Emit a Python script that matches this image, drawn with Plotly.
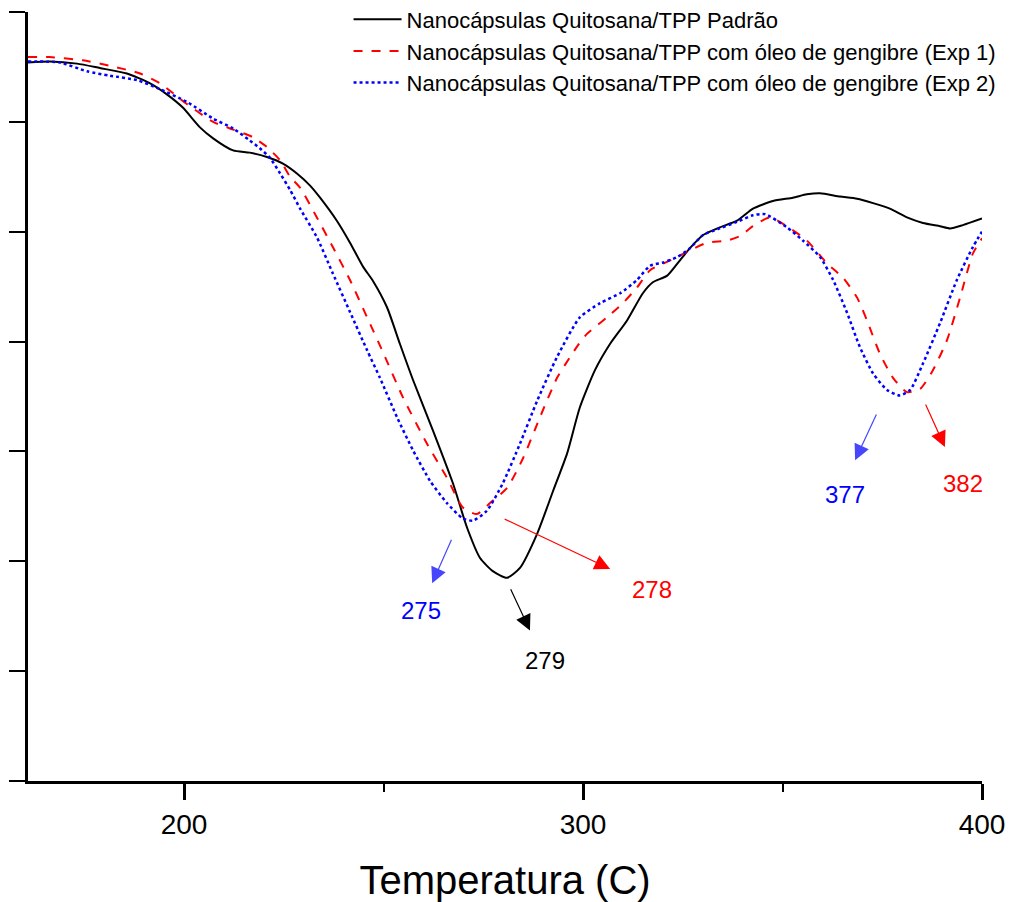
import plotly.graph_objects as go

# Temperature (C) and DTG-like signal (arbitrary units, axis has no labels)
temp_padrao = [160.9, 166.4, 173.2, 178.9, 185.7, 191.5, 195.7, 199.7, 204.0, 207.3, 212.3, 216.5,
               220.8, 224.8, 228.3, 231.6, 234.1, 238.3, 241.6, 244.9, 247.4, 250.9, 254.1, 257.4,
               262.4, 267.4, 270.9, 274.2, 277.4, 281.0, 284.2, 288.5, 292.5, 296.0, 299.2, 303.0,
               306.8, 311.0, 315.0, 317.5, 321.1, 324.3, 326.8, 330.1, 334.3, 338.6, 342.6, 347.6,
               352.6, 356.1, 359.4, 364.4, 368.7, 372.7, 376.9, 381.2, 385.2, 389.5, 392.0, 395.2, 400.0]
dtg_padrao = [6.54, 6.55, 6.53, 6.49, 6.44, 6.35, 6.25, 6.13, 5.95, 5.85, 5.74, 5.72,
              5.68, 5.62, 5.53, 5.42, 5.31, 5.10, 4.90, 4.68, 4.55, 4.31, 3.98, 3.65,
              3.19, 2.71, 2.31, 2.03, 1.91, 1.85, 1.94, 2.25, 2.64, 2.98, 3.40, 3.74,
              3.98, 4.19, 4.44, 4.54, 4.60, 4.74, 4.85, 4.97, 5.04, 5.10, 5.21, 5.28,
              5.31, 5.34, 5.35, 5.32, 5.30, 5.26, 5.21, 5.13, 5.08, 5.05, 5.03, 5.06, 5.12]

temp_exp1 = [160.9, 166.4, 174.7, 181.5, 189.0, 194.0, 200.8, 207.3, 212.3, 217.3, 220.8, 224.1,
             226.6, 229.1, 233.3, 237.3, 241.6, 245.9, 249.9, 254.9, 260.9, 265.9, 269.9, 273.4,
             276.7, 281.0, 285.0, 289.2, 293.5, 296.6, 298.8, 301.0, 306.0, 310.0, 313.5, 316.8,
             320.1, 323.6, 326.8, 331.1, 336.1, 339.3, 342.6, 346.9, 351.9, 356.1, 361.2, 365.2,
             368.7, 371.2, 374.4, 377.7, 381.2, 384.5, 387.7, 391.2, 394.5, 397.7, 400.0]
dtg_exp1 = [6.59, 6.59, 6.56, 6.51, 6.44, 6.35, 6.16, 6.00, 5.93, 5.86, 5.77, 5.65,
            5.50, 5.40, 5.13, 4.86, 4.56, 4.22, 3.90, 3.49, 3.07, 2.76, 2.49, 2.43,
            2.53, 2.67, 2.94, 3.31, 3.67, 3.85, 3.97, 4.07, 4.22, 4.35, 4.49, 4.65,
            4.71, 4.77, 4.83, 4.90, 4.92, 4.96, 5.05, 5.13, 5.03, 4.92, 4.71, 4.58,
            4.40, 4.19, 3.89, 3.67, 3.54, 3.57, 3.74, 4.01, 4.40, 4.80, 4.94]

temp_exp2 = [160.9, 168.9, 175.7, 181.5, 188.2, 193.2, 200.8, 207.3, 212.3, 216.5, 219.0, 221.6,
             224.1, 226.6, 229.1, 233.3, 237.3, 241.6, 245.9, 249.1, 253.4, 257.4, 261.7, 265.9,
             269.9, 272.4, 275.9, 279.9, 284.2, 288.5, 293.5, 299.2, 304.3, 309.3, 313.5, 316.8,
             320.1, 323.6, 326.8, 330.1, 334.3, 338.6, 342.6, 345.6, 351.1, 355.1, 359.4, 362.7,
             366.2, 369.4, 372.7, 376.2, 379.4, 382.0, 385.2, 389.5, 393.7, 397.7, 400.0]
dtg_exp2 = [6.55, 6.54, 6.46, 6.42, 6.38, 6.31, 6.18, 6.03, 5.94, 5.83, 5.76, 5.67,
            5.53, 5.38, 5.21, 4.95, 4.62, 4.27, 3.92, 3.67, 3.31, 3.01, 2.73, 2.53,
            2.39, 2.37, 2.46, 2.71, 3.07, 3.46, 3.86, 4.22, 4.35, 4.44, 4.56, 4.69,
            4.72, 4.77, 4.85, 4.97, 5.03, 5.09, 5.15, 5.16, 5.04, 4.92, 4.77, 4.56,
            4.26, 3.95, 3.71, 3.56, 3.51, 3.56, 3.80, 4.17, 4.56, 4.86, 5.00]

series_names = ["Nanocápsulas Quitosana/TPP Padrão",
                "Nanocápsulas Quitosana/TPP com óleo de gengibre (Exp 1)",
                "Nanocápsulas Quitosana/TPP com óleo de gengibre (Exp 2)"]

# Peak annotations: label, colour, arrow tail (x, y), arrow head (x, y), label position (x, y)
peak_labels = ["275", "279", "278", "377", "382"]
peak_colors = ["#0000FF", "#000000", "#FF0000", "#0000FF", "#FF0000"]
arrow_colors = ["#4646FF", "#000000", "#FF0000", "#4646FF", "#FF0000"]
arrow_tail = [(267.2, 2.21), (281.7, 1.76), (280.0, 2.39), (373.7, 3.35), (385.7, 3.44)]
arrow_head = [(262.2, 1.80), (286.7, 1.37), (306.8, 1.93), (368.2, 2.92), (390.7, 3.04)]
label_pos = [(259.4, 1.55), (290.5, 1.10), (317.3, 1.74), (365.7, 2.61), (395.2, 2.71)]

FONT = "Arial, 'Liberation Sans', sans-serif"

fig = go.Figure()
fig.add_trace(go.Scatter(x=temp_padrao, y=dtg_padrao, mode="lines", name=series_names[0],
                         line=dict(color="#000000", width=2, shape="spline", smoothing=0.6)))
fig.add_trace(go.Scatter(x=temp_exp1, y=dtg_exp1, mode="lines", name=series_names[1],
                         line=dict(color="#FF0000", width=2, dash="dash", shape="spline", smoothing=0.6)))
fig.add_trace(go.Scatter(x=temp_exp2, y=dtg_exp2, mode="lines", name=series_names[2],
                         line=dict(color="#0000FF", width=2.5, dash="dot", shape="spline", smoothing=0.6)))

for lab, col, acol, t, h, p in zip(peak_labels, peak_colors, arrow_colors, arrow_tail, arrow_head, label_pos):
    fig.add_annotation(x=h[0], y=h[1], ax=t[0], ay=t[1], xref="x", yref="y", axref="x", ayref="y",
                       text="", showarrow=True, arrowhead=2, arrowsize=2.6, arrowwidth=1.2,
                       arrowcolor=acol, standoff=0, startstandoff=0)
    fig.add_annotation(x=p[0], y=p[1], xref="x", yref="y", text=lab, showarrow=False,
                       font=dict(family=FONT, size=24, color=col))

# page body has an 8px default margin; size the figure so the plot lands where the reference has it
fig.update_layout(
    width=1006, height=894,
    margin=dict(l=20, r=32, t=4, b=121, autoexpand=False),
    paper_bgcolor="white", plot_bgcolor="white",
    font=dict(family=FONT, color="black"),
    showlegend=True,
    legend=dict(x=0.336, y=1.0175, xanchor="left", yanchor="top",
                font=dict(family=FONT, size=22, color="black"),
                bgcolor="rgba(0,0,0,0)", itemwidth=48, tracegroupgap=0),
    xaxis=dict(range=[160.9, 400], tickvals=[200, 300, 400], ticks="outside", ticklen=16,
               tickwidth=3, tickcolor="black", showline=True, linewidth=3, linecolor="black",
               showgrid=False, zeroline=False, tickfont=dict(family=FONT, size=28), automargin=False,
               minor=dict(tickvals=[250, 350], ticks="outside", ticklen=8, tickwidth=2,
                          tickcolor="black", showgrid=False),
               title=dict(text="Temperatura (C)", font=dict(family=FONT, size=40), standoff=28)),
    yaxis=dict(range=[0, 7], tickvals=[0, 1, 2, 3, 4, 5, 6, 7], ticks="outside", ticklen=16,
               tickwidth=2, tickcolor="black", showticklabels=False, showline=True, automargin=False,
               linewidth=3, linecolor="black", showgrid=False, zeroline=False),
)

fig.write_html("out.html")
